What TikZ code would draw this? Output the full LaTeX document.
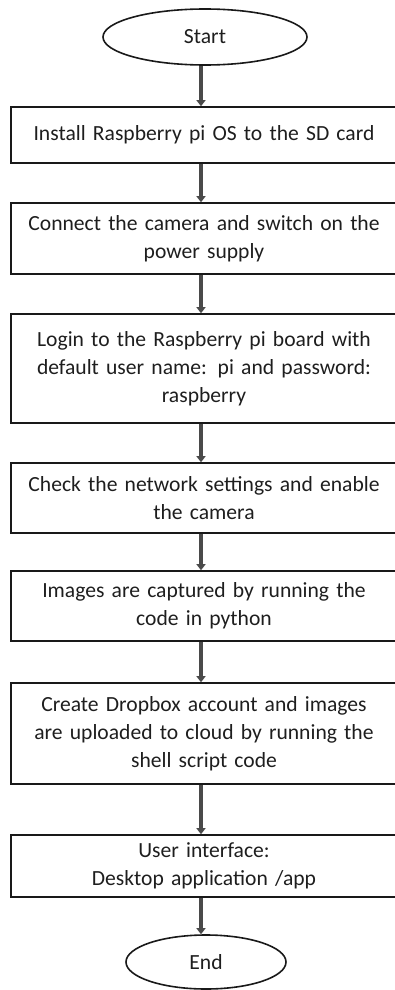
\documentclass[tikz,border=0pt]{standalone}
\usepackage{fontspec}
\setmainfont{Carlito}
\usetikzlibrary{shapes.geometric,arrows.meta}
\definecolor{txt}{HTML}{1E1E1E}
\definecolor{arr}{HTML}{4A4A4A}
\tikzset{
  stepbox/.style={draw=black!90,line width=1.6pt,rectangle,minimum width=386pt,inner sep=0pt,
    text width=370pt,align=center,text=txt,font=\fontsize{21.6}{28}\selectfont},
  term/.style={draw=black!90,line width=1.6pt,ellipse,inner sep=0pt,text=txt,font=\fontsize{21.6}{28}\selectfont},
  flow/.style={draw=arr,line width=3.6pt,-{Triangle[length=6pt,width=9pt]}}
}
\begin{document}
\begin{tikzpicture}[x=1pt,y=-1pt]
\useasboundingbox (0,0) rectangle (395,990);
\clip (0,0) rectangle (395,990);
\coordinate (ax) at (201,0);
\node[term,minimum width=204pt,minimum height=56pt] (s) at (205,37) {Start};
\node[stepbox,minimum height=56pt] (b1) at (204,135) {Install Raspberry pi OS to the SD card};
\node[stepbox,minimum height=71pt] (b2) at (204,238.5) {Connect the camera and switch on the\\power supply};
\node[stepbox,minimum height=109pt] (b3) at (204,368.5) {Login to the Raspberry pi board with\\default user name: pi and password:\\raspberry};
\node[stepbox,minimum height=70pt] (b4) at (204,498) {Check the network settings and enable\\the camera};
\node[stepbox,minimum height=70pt] (b5) at (204,606) {Images are captured by running the\\code in python};
\node[stepbox,minimum height=101pt] (b6) at (204,733.5) {Create Dropbox account and images\\are uploaded to cloud by running the\\shell script code};
\node[stepbox,minimum height=62pt] (b7) at (204,866) {User interface:\\Desktop application /app};
\node[term,minimum width=160pt,minimum height=54pt] (e) at (206,962) {End};
\draw[flow] (s.south -| ax) -- (b1.north -| ax);
\draw[flow] (b1.south -| ax) -- (b2.north -| ax);
\draw[flow] (b2.south -| ax) -- (b3.north -| ax);
\draw[flow] (b3.south -| ax) -- (b4.north -| ax);
\draw[flow] (b4.south -| ax) -- (b5.north -| ax);
\draw[flow] (b5.south -| ax) -- (b6.north -| ax);
\draw[flow] (b6.south -| ax) -- (b7.north -| ax);
\draw[flow] (b7.south -| ax) -- (e.north -| ax);
\end{tikzpicture}
\end{document}
